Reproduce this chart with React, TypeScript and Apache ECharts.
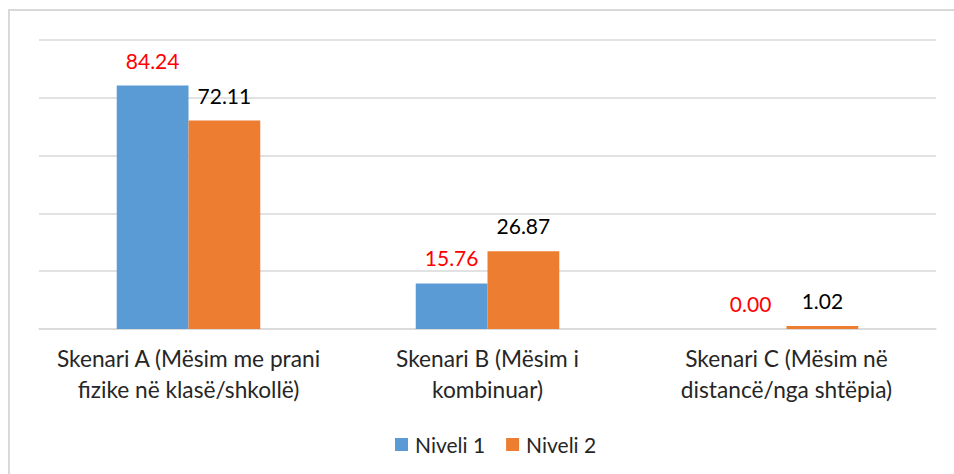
import React, { useEffect, useRef } from "react";
import * as echarts from "echarts";

const categories = [
  "Skenari A (Mësim me prani\nfizike në klasë/shkollë)",
  "Skenari B (Mësim i\nkombinuar)",
  "Skenari C (Mësim në\ndistancë/nga shtëpia)",
];
const niveli1 = [84.24, 15.76, 0.0];
const niveli2 = [72.11, 26.87, 1.02];
const seriesNames = ["Niveli 1", "Niveli 2"];

const FONT = "Lato";

export default function App() {
  const ref = useRef<HTMLDivElement>(null);
  useEffect(() => {
    if (!ref.current) return;
    const chart = echarts.init(ref.current, null, { renderer: "svg" });
    chart.setOption({
      animation: false,
      backgroundColor: "#ffffff",
      textStyle: { fontFamily: FONT },
      graphic: [
        {
          type: "rect",
          shape: { x: 9, y: 10, width: 960, height: 480 },
          style: { fill: "none", stroke: "#D9D9D9", lineWidth: 2 },
          silent: true,
        },
      ],
      grid: { left: 39, right: 18, top: 40, bottom: 145, containLabel: false },
      legend: {
        data: seriesNames,
        bottom: 14,
        left: 390,
        icon: "rect",
        itemWidth: 13,
        itemHeight: 13,
        itemGap: 21,
        textStyle: { fontFamily: FONT, fontSize: 21, color: "#262626", padding: [0, 0, 0, 2] },
      },
      xAxis: {
        type: "category",
        data: categories,
        axisLine: { show: true, lineStyle: { color: "#D9D9D9", width: 1.5 } },
        axisTick: { show: false },
        axisLabel: {
          interval: 0,
          margin: 14,
          fontFamily: FONT,
          fontSize: 22.7,
          lineHeight: 31,
          color: "#262626",
        },
      },
      yAxis: {
        type: "value",
        min: 0,
        max: 100,
        interval: 20,
        axisLabel: { show: false },
        axisLine: { show: false },
        axisTick: { show: false },
        splitLine: { lineStyle: { color: "#D9D9D9", width: 1.5 } },
      },
      series: [
        {
          name: seriesNames[0],
          type: "bar",
          data: niveli1,
          barGap: "0%",
          barCategoryGap: "52%",
          itemStyle: { color: "#5B9BD5" },
          label: {
            show: true,
            position: "top",
            distance: 15,
            formatter: (p: any) => Number(p.value).toFixed(2),
            color: "#FF0000",
            fontFamily: FONT,
            fontSize: 21,
          },
        },
        {
          name: seriesNames[1],
          type: "bar",
          data: niveli2,
          barGap: "0%",
          barCategoryGap: "52%",
          itemStyle: { color: "#ED7D31" },
          label: {
            show: true,
            position: "top",
            distance: 15,
            formatter: (p: any) => Number(p.value).toFixed(2),
            color: "#000000",
            fontFamily: FONT,
            fontSize: 21,
          },
        },
      ],
    });
    return () => chart.dispose();
  }, []);
  return (
    <div
      ref={ref}
      style={{ position: "fixed", left: 0, top: 0, width: 954, height: 474, background: "#fff" }}
    />
  );
}
